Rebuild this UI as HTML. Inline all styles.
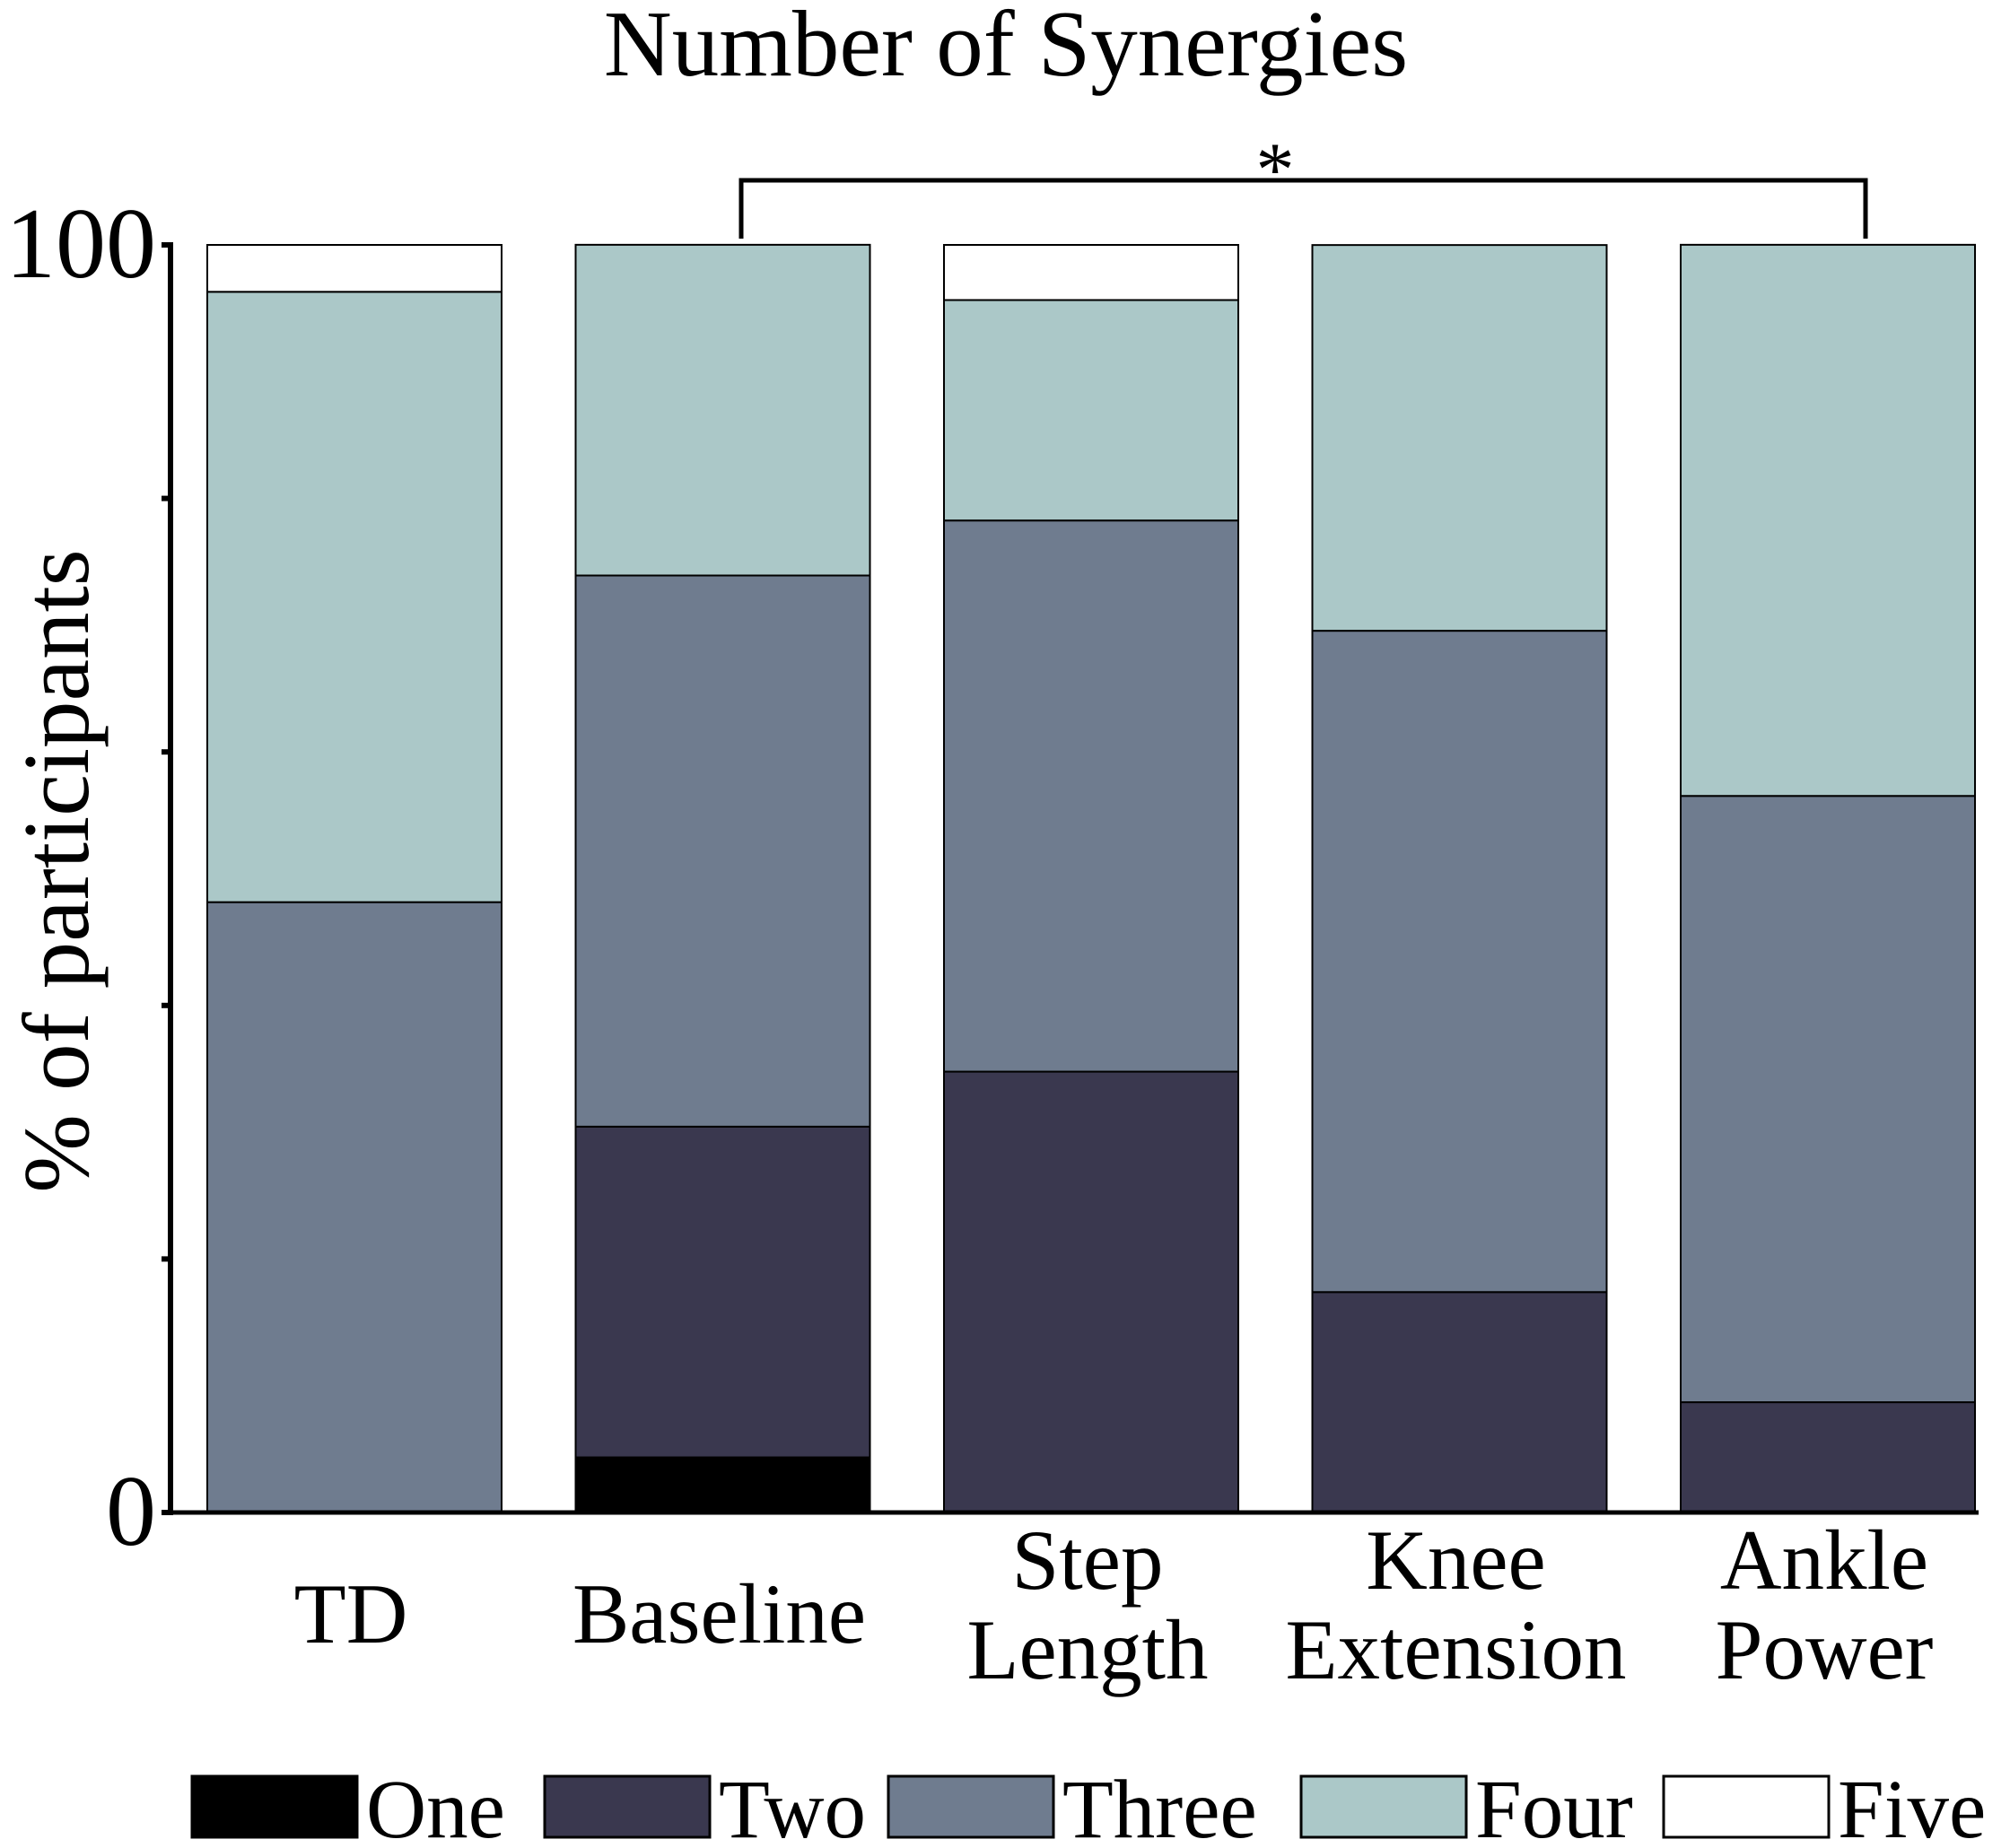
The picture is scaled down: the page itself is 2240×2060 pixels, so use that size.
<!DOCTYPE html>
<html><head><meta charset="utf-8"><style>
html,body{margin:0;padding:0;background:#fff;}
svg{display:block;font-family:"Liberation Serif",serif;}
</style></head><body>
<svg id="chart" width="2240" height="2060" viewBox="0 0 2240 2060" xmlns="http://www.w3.org/2000/svg">
<text x="1121" y="84" font-size="105" text-anchor="middle">Number of Synergies</text>
<text transform="translate(98,971) rotate(-90)" font-size="105" text-anchor="middle">% of participants</text>
<g id="bars"></g>
<g id="axis"></g>
<g id="xlabels"></g>
<g id="legend"></g>
<g>
<path d="M826 266 V201 H2079 V266" fill="none" stroke="#000" stroke-width="5"/>
<text x="1421" y="218" font-size="86" text-anchor="middle">*</text>
</g>
</svg>
<script>
const categories = [["TD"],["Baseline"],["Step","Length"],["Knee","Extension"],["Ankle","Power"]];
const seriesNames = ["One","Two","Three","Four","Five"];
const one   = [0, 4.35, 0, 0, 0];
const two   = [0, 26.09, 34.78, 17.39, 8.70];
const three = [48.15, 43.48, 43.48, 52.17, 47.83];
const four  = [48.15, 26.09, 17.39, 30.43, 43.48];
const five  = [3.70, 0, 4.35, 0, 0];
const yTicks = [0,20,40,60,80,100];
const yTickLabels = ["0","","","","","100"];

const series=[one,two,three,four,five];
const colors=["#000000","#3a384f","#6f7c8f","#abc8c8","#ffffff"];
const NS="http://www.w3.org/2000/svg";
const y0=1686,y100=273;
const yScale=v=>y0-(y0-y100)*v/100;
const barW=328;
const xScale=i=>231+i*410.5;
function mk(tag,attrs,parent){const e=document.createElementNS(NS,tag);for(const k in attrs)e.setAttribute(k,attrs[k]);parent.appendChild(e);return e;}
const bars=document.getElementById('bars');
categories.forEach((c,i)=>{
  let cum=0;
  series.forEach((s,j)=>{
    const v=s[i]; if(v<=0){return;}
    const yt=yScale(cum+v), yb=yScale(cum);
    const r=mk('rect',{x:xScale(i),y:yt,width:barW,height:yb-yt,fill:colors[j],stroke:'#000','stroke-width':2},bars);
    
    
    cum+=v;
  });
});
const axis=document.getElementById('axis');
const al=mk('line',{x1:190,y1:y100-3,x2:190,y2:y0+3,stroke:'#000','stroke-width':6},axis);


const xl=mk('line',{x1:187,y1:y0,x2:2205,y2:y0,stroke:'#000','stroke-width':5},axis);


yTicks.forEach((t,k)=>{
  const tk=mk('line',{x1:180,y1:yScale(t),x2:192,y2:yScale(t),stroke:'#000','stroke-width':6},axis);
  
  
  if(yTickLabels[k]){
    const tx=mk('text',{x:174,y:yScale(t)+36,'font-size':112,'text-anchor':'end'},axis);
    tx.textContent=yTickLabels[k];
    
    
  }
});
const xg=document.getElementById('xlabels');
categories.forEach((c,i)=>{
  const cx=xScale(i)+barW/2-4;
  const ys=c.length===1?[1831]:[1771,1871];
  c.forEach((line,k)=>{
    const t=mk('text',{x:cx,y:ys[k],'font-size':95,'text-anchor':'middle'},xg);
    t.textContent=line;
    
    
  });
});
const lg=document.getElementById('legend');
const lx=[214,607,990,1450,1854];
seriesNames.forEach((n,j)=>{
  const r=mk('rect',{x:lx[j],y:1980,width:184,height:68,fill:colors[j],stroke:'#000','stroke-width':3},lg);
  
  
  const t=mk('text',{x:lx[j]+194,y:2048,'font-size':93},lg);
  t.textContent=n;
  
  
});
</script>
</body></html>
